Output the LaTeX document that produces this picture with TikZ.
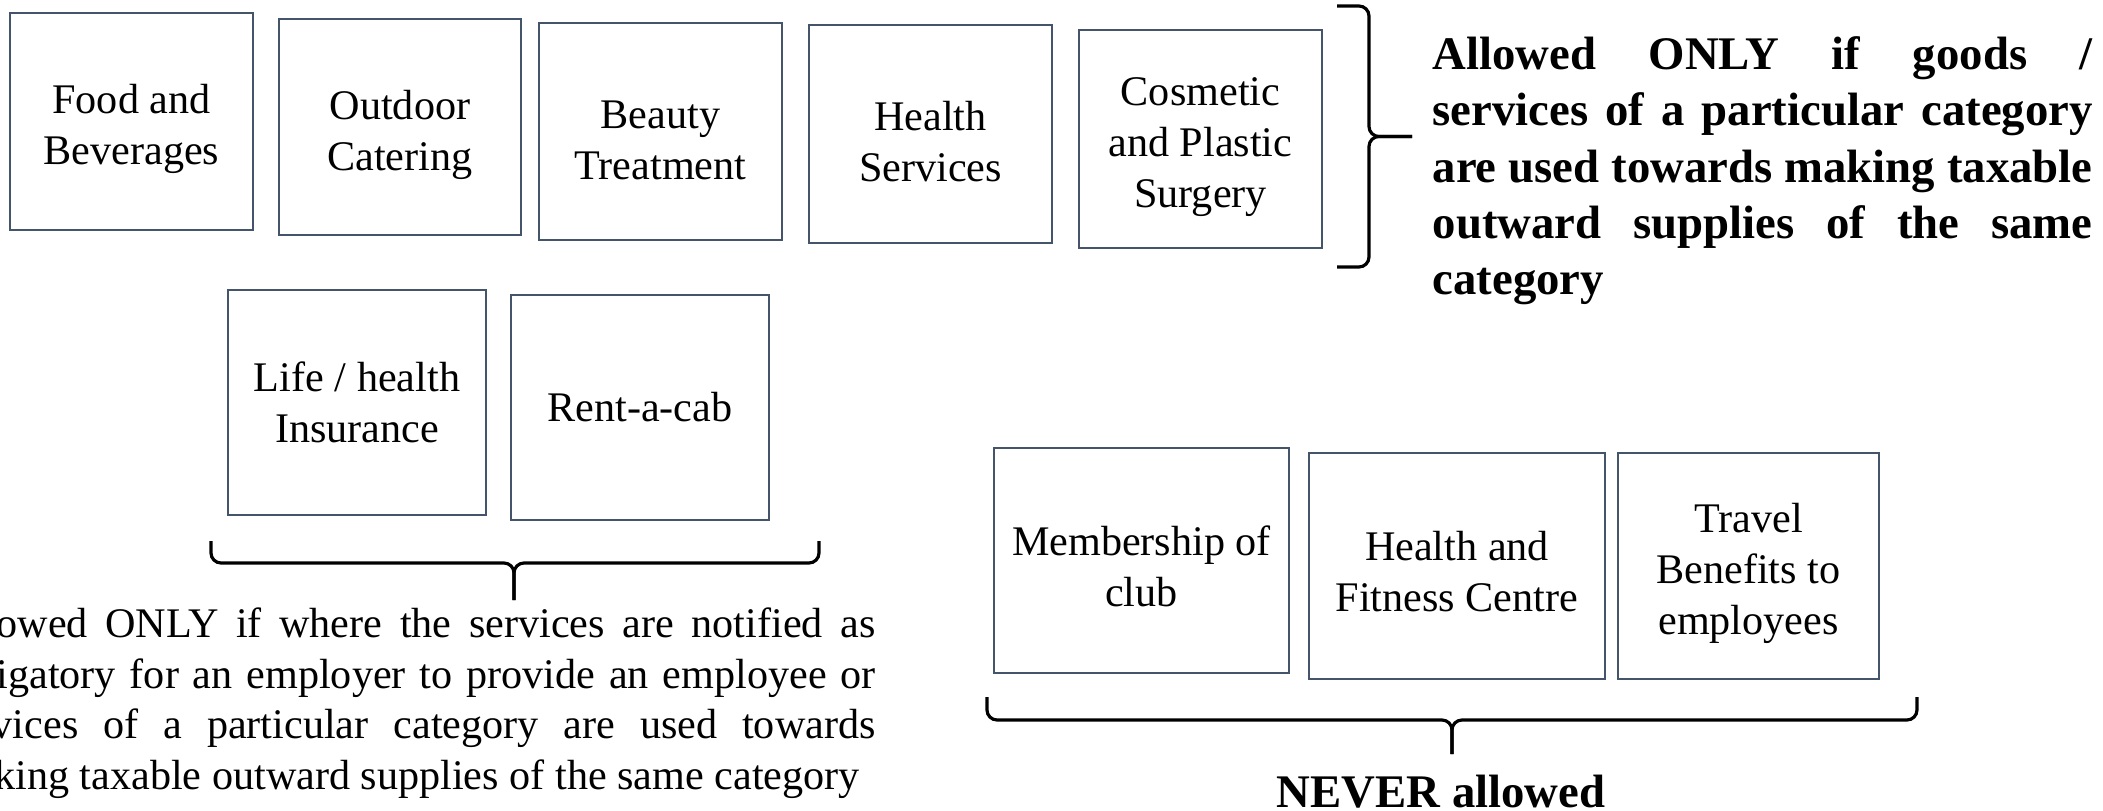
\documentclass[tikz,border=0pt]{standalone}
\usepackage{fontspec}
\setmainfont{Liberation Serif}
\usepackage{tikz}

\definecolor{boxline}{RGB}{68,84,106}
\newcommand{\boxlift}[1][0.45cm]{\rule{0pt}{#1}}

\tikzset{
    item/.style={shape=rectangle, draw=boxline, line width=0.6pt, align=center, inner sep=2pt,
        font=\fontsize{12}{14.5}\selectfont},
    brace/.style={black, line width=0.9pt, rounded corners=0.1cm},
    remark/.style={inner sep=0pt, align=justify}
}

\begin{document}
\begin{tikzpicture}
        \clip (0, 0) rectangle (21.03, 8.10);

        % allowed only for the same category
        \node[item, minimum width=2.43cm, minimum height=2.17cm] (C1) at (1.315, 6.885) {\boxlift Food and\\Beverages};
        \node[item, minimum width=2.42cm, minimum height=2.16cm] (C2) at (4.00, 6.83) {\boxlift Outdoor\\Catering};
        \node[item, minimum width=2.43cm, minimum height=2.17cm] (C3) at (6.605, 6.785) {\boxlift Beauty\\Treatment};
        \node[item, minimum width=2.43cm, minimum height=2.18cm] (C4) at (9.305, 6.76) {\boxlift Health\\Services};
        \node[item, minimum width=2.43cm, minimum height=2.18cm] (C5) at (12.005, 6.71) {\boxlift Cosmetic\\and Plastic\\Surgery};

        % allowed when notified
        \node[item, minimum width=2.58cm, minimum height=2.25cm] (E1) at (3.57, 4.075) {Life / health\\Insurance};
        \node[item, minimum width=2.58cm, minimum height=2.25cm] (E2) at (6.40, 4.025) {Rent-a-cab};

        % never allowed
        \node[item, minimum width=2.95cm, minimum height=2.25cm] (N1) at (11.415, 2.495) {\boxlift[0.41cm]Membership of\\club};
        \node[item, minimum width=2.96cm, minimum height=2.26cm] (N2) at (14.57, 2.44) {\boxlift[0.41cm]Health and\\Fitness Centre};
        \node[item, minimum width=2.61cm, minimum height=2.26cm] (N3) at (17.485, 2.44) {\boxlift Travel\\Benefits to\\employees};

        \coordinate (R1) at (13.37, 8.04);
        \coordinate (R2) at (13.37, 5.43);
        \coordinate (Rm) at (13.69, 6.735);
        \coordinate (Rt) at (14.12, 6.735);
        \draw[brace] (R1) -| (Rm) -- (Rt);
        \draw[brace] (R2) -| (Rm) -- (Rt);

        \coordinate (L1) at (2.11, 2.69);
        \coordinate (L2) at (8.19, 2.69);
        \coordinate (Lm) at (5.14, 2.47);
        \coordinate (Lt) at (5.14, 2.10);
        \draw[brace] (L1) |- (Lm) -- (Lt);
        \draw[brace] (L2) |- (Lm) -- (Lt);

        \coordinate (M1) at (9.87, 1.13);
        \coordinate (M2) at (19.17, 1.13);
        \coordinate (Mm) at (14.52, 0.90);
        \coordinate (Mt) at (14.52, 0.56);
        \draw[brace] (M1) |- (Mm) -- (Mt);
        \draw[brace] (M2) |- (Mm) -- (Mt);

        \node[remark, anchor=north west, text width=6.60cm, font=\bfseries\fontsize{13.3}{16}\selectfont] (T1) at (14.32, 7.74)
            {Allowed ONLY if goods /\linebreak services of a particular category\linebreak are used towards making taxable\linebreak outward supplies of the same\linebreak category};
        \node[remark, anchor=north west, text width=9.33cm, font=\fontsize{12}{14.4}\selectfont] (T2) at (-0.58, 2.03)
            {Allowed ONLY if where the services are notified as\linebreak obligatory for an employer to provide an employee or\linebreak services of a particular category are used towards\linebreak making taxable outward supplies of the same category};
        \node[anchor=base, inner sep=0pt, font=\bfseries\fontsize{13.3}{16}\selectfont] (T3) at (14.41, 0.03) {NEVER allowed};
    \end{tikzpicture}
\end{document}
